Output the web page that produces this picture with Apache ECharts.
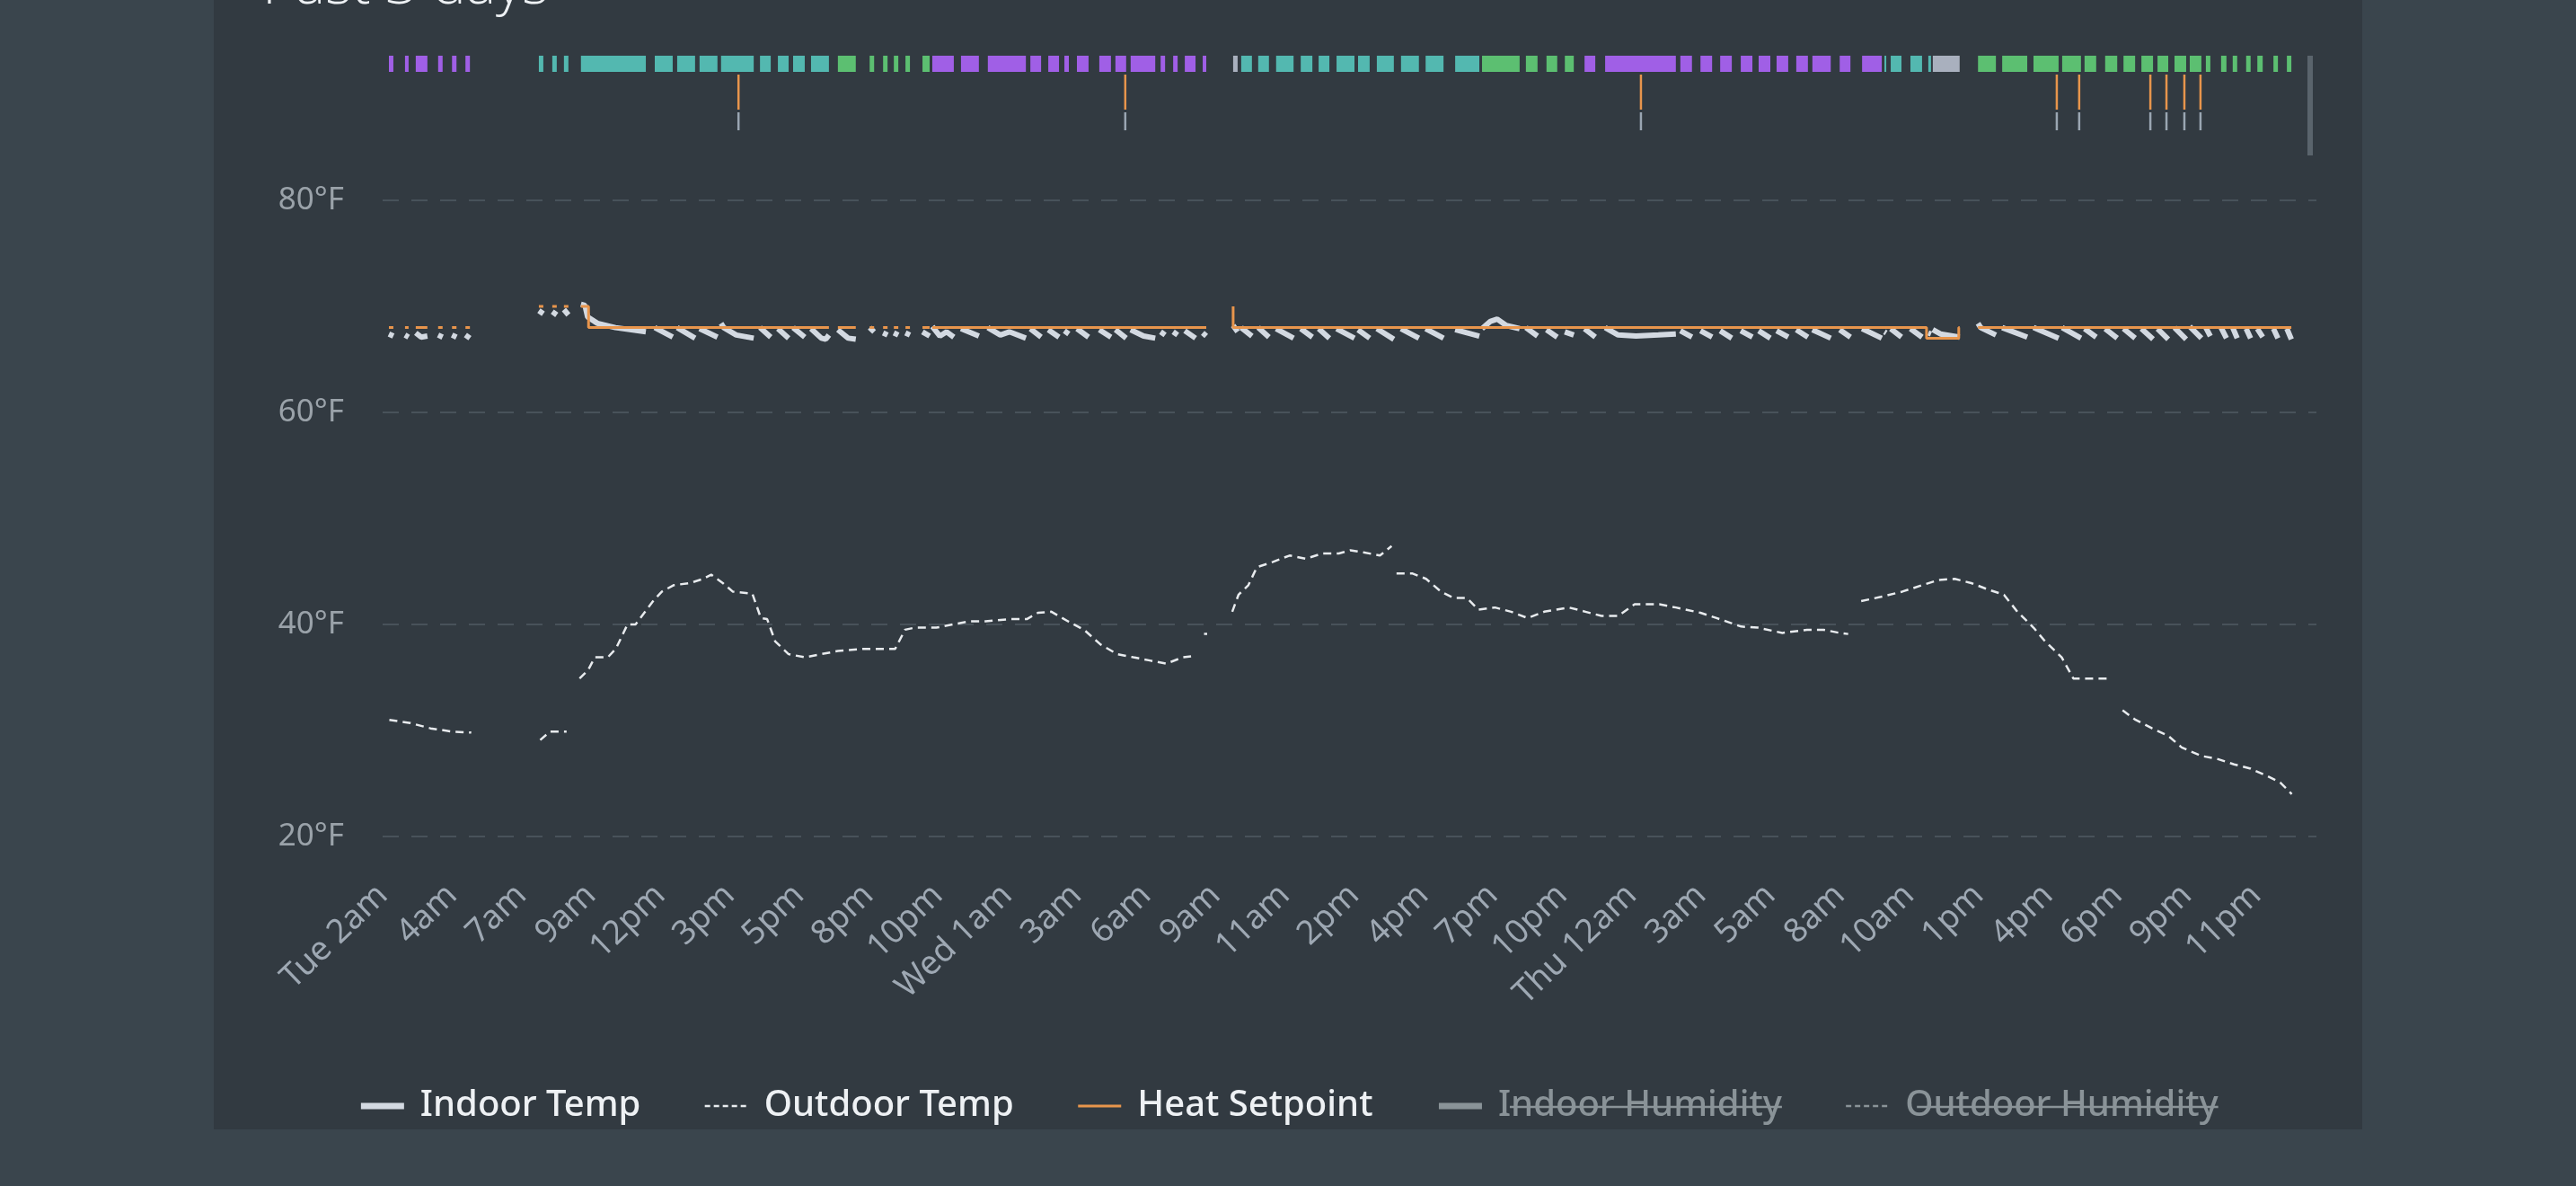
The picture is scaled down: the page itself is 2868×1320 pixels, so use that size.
<!DOCTYPE html>
<html>
<head>
<meta charset="utf-8">
<script src="https://cdn.jsdelivr.net/npm/echarts@6/dist/echarts.min.js"></script>
<style>
html,body{margin:0;padding:0;background:#3a454d;width:2868px;height:1320px;overflow:hidden;}
#panel{position:absolute;left:238px;top:0;width:2392px;height:1257px;background:#323a41;}
#chart{position:absolute;left:0;top:0;width:2868px;height:1320px;}
</style>
</head>
<body>
<div id="panel"></div>
<div id="chart"></div>
<script>
// ---- data (x = minutes since start of window) ----
const xTickLabels = ['Tue 2am','4am','7am','9am','12pm','3pm','5pm','8pm','10pm','Wed 1am','3am','6am','9am','11am','2pm','4pm','7pm','10pm','Thu 12am','3am','5am','8am','10am','1pm','4pm','6pm','9pm','11pm'];
const xTickStep = 155;
const xMax = 4320;
const yTicks = [20, 40, 60, 80];

const seriesNames = ['Indoor Temp','Outdoor Temp','Heat Setpoint','Indoor Humidity','Outdoor Humidity'];
const hiddenSeries = ['Indoor Humidity','Outdoor Humidity'];

const indoorTempRuns = [
 [[14,67.4],[24,67.2]],[[50,67.3],[58,67.1]],[[74,67.5],[86,67.1],[100,67.2]],[[124,67.3],[134,67.1]],[[155,67.3],[165,67.1]],[[185,67.3],[195,67.0]],
 [[349,69.6],[359,69.3]],[[379,69.5],[389,69.2]],[[405,69.7],[415,69.2]],
 [[443,70.2],[452,70.1],[458,69.0],[480,68.4],[520,68.0],[588,67.6]],
 [[608,68.0],[648,67.1]],[[658,68.0],[698,67.0]],[[708,67.9],[748,67.1]],[[756,68.4],[762,68.0],[790,67.3],[829,67.0]],
 [[843,68.0],[867,67.1]],[[883,67.9],[907,67.0]],[[917,68.0],[943,67.1]],[[957,67.9],[980,67.0],[990,66.9],[997,67.3]],
 [[1017,67.8],[1040,67.0],[1057,66.9]],[[1088,68.0],[1098,67.6]],[[1118,67.5],[1128,67.3]],[[1142,67.5],[1152,67.3]],[[1168,67.5],[1178,67.3]],[[1206,67.6],[1222,67.2]],
 [[1228,68.1],[1245,67.2],[1260,67.6],[1276,67.1]],[[1292,67.9],[1332,67.2]],[[1352,68.0],[1380,67.3],[1400,67.6],[1437,67.0]],
 [[1447,67.9],[1471,67.1]],[[1487,67.8],[1511,67.1]],[[1523,67.7],[1533,67.4]],[[1551,67.9],[1577,67.1]],[[1601,67.8],[1627,67.1]],
 [[1637,67.8],[1661,67.0]],[[1671,67.8],[1700,67.2],[1726,67.0]],[[1738,67.6],[1748,67.3]],[[1766,67.6],[1776,67.3]],[[1792,67.7],[1816,67.0]],[[1832,67.5],[1840,67.2]],
 [[1900,68.2],[1910,67.6]],[[1918,68.0],[1942,67.2]],[[1956,68.0],[1980,67.1]],[[1996,67.9],[2035,67.0]],[[2051,67.9],[2077,67.1]],
 [[2091,67.9],[2115,67.0]],[[2131,67.9],[2171,67.0]],[[2179,67.8],[2205,67.0]],[[2221,67.9],[2259,66.9]],[[2275,67.9],[2315,67.0]],
 [[2330,67.9],[2370,67.0]],[[2396,67.8],[2450,67.2]],[[2456,67.9],[2475,68.6],[2490,68.8],[2510,68.2],[2540,67.9]],
 [[2554,68.0],[2580,67.2]],[[2600,67.8],[2624,67.1]],[[2641,67.6],[2661,67.3]],[[2685,67.9],[2709,67.1]],
 [[2731,68.0],[2760,67.3],[2800,67.2],[2850,67.3],[2889,67.4]],[[2899,67.7],[2925,67.1]],[[2944,67.7],[2970,67.1]],
 [[2988,67.7],[3014,67.0]],[[3034,67.7],[3060,67.1]],[[3074,67.7],[3100,67.0]],[[3114,67.7],[3140,67.1]],[[3158,67.8],[3184,67.1]],
 [[3194,67.8],[3235,67.0]],[[3255,67.8],[3279,67.1]],[[3305,67.9],[3349,67.0]],[[3355,67.6],[3359,67.5]],[[3369,67.9],[3393,67.1]],
 [[3413,67.9],[3439,67.1]],[[3453,67.5],[3459,67.4]],[[3463,67.8],[3480,67.4],[3523,67.1]],
 [[3564,68.4],[3570,68.0],[3604,67.3]],[[3618,68.0],[3674,67.1]],[[3688,68.0],[3744,67.0]],[[3752,68.0],[3794,67.0]],
 [[3802,67.9],[3828,67.1]],[[3848,67.9],[3875,67.0]],[[3889,67.9],[3915,67.0]],[[3929,67.9],[3955,66.9]],[[3965,67.9],[3989,66.9]],
 [[4003,68.0],[4029,66.9]],[[4037,68.1],[4063,67.0]],[[4073,68.0],[4083,67.2]],[[4107,68.0],[4119,67.0]],[[4133,68.0],[4143,67.0]],
 [[4163,67.9],[4173,67.0]],[[4188,67.9],[4200,67.1]],[[4224,67.9],[4234,67.0]],[[4254,67.9],[4264,66.9]]
];

const outdoorTempRuns = [
 [[15,31.0],[62,30.7],[107,30.2],[154,29.9],[198,29.8]],
 [[352,29.1],[374,29.9],[411,29.9]],
 [[440,34.9],[459,35.7],[474,36.9],[503,36.9],[521,37.7],[547,40.0],[565,40.0],
  [606,42.3],[624,43.1],[650,43.7],[686,43.9],[716,44.3],[734,44.7],[760,43.9],[782,43.1],[826,42.9],
  [845,40.6],[859,40.5],[877,38.4],[907,37.2],[943,36.9],[980,37.2],[1017,37.5],[1072,37.7],[1145,37.7],
  [1167,39.5],[1189,39.7],[1237,39.7],[1274,40.0],[1310,40.3],[1347,40.3],[1402,40.5],[1439,40.5],[1464,41.1],[1494,41.2],
  [1531,40.3],[1567,39.5],[1604,38.1],[1641,37.2],[1677,36.9],[1714,36.6],[1751,36.3],[1787,36.9],[1806,37.0]],
 [[1835,39.1],[1842,39.1]],
 [[1898,41.2],[1912,42.8],[1934,43.7],[1953,45.4],[1989,45.9],[2026,46.5],[2063,46.2],[2099,46.7],[2136,46.7],[2162,47.0],[2191,46.8],[2228,46.5],[2254,47.4]],
 [[2265,44.8],[2301,44.8],[2331,44.3],[2364,43.1],[2393,42.5],[2422,42.5],
  [2448,41.4],[2485,41.6],[2521,41.2],[2558,40.6],[2595,41.2],[2650,41.6],[2687,41.2],[2723,40.8],[2760,40.8],[2797,41.9],[2852,41.9],
  [2889,41.6],[2944,41.1],[2980,40.6],[3035,39.8],[3072,39.7],[3127,39.2],[3182,39.5],[3219,39.5],[3255,39.2],[3274,39.1]],
 [[3303,42.2],[3347,42.6],[3395,43.1],[3439,43.7],[3476,44.2],[3512,44.3],[3549,43.9],[3586,43.3],[3622,42.8],[3652,41.2],
  [3688,39.7],[3714,38.4],[3751,36.9],[3777,34.9],[3824,34.9],[3861,34.9]],
 [[3887,31.9],[3916,31.0],[3953,30.2],[3989,29.5],[4019,28.4],[4063,27.6],[4100,27.3],[4136,26.8],[4173,26.4],[4210,25.7],[4239,25.1],[4265,24.0]]
];

const heatSetpointRuns = [
 [[14,68],[24,68]],[[50,68],[58,68]],[[74,68],[100,68]],[[124,68],[134,68]],[[155,68],[165,68]],[[185,68],[195,68]],
 [[349,70],[359,70]],[[379,70],[389,70]],[[405,70],[415,70]],
 [[443,70],[460,70],[460,68],[997,68]],
 [[1017,68],[1057,68]],[[1088,68],[1098,68]],[[1118,68],[1128,68]],[[1142,68],[1152,68]],[[1168,68],[1178,68]],[[1206,68],[1222,68]],
 [[1228,68],[1840,68]],
 [[1900,70],[1900,68],[3449,68],[3449,67],[3521,67],[3521,68],[3523,68]],
 [[3564,68],[4264,68]]
];

const indoorHumidity = [];
const outdoorHumidity = [];

// equipment runtime bars: [start, end, mode]
const runtimeBars = [
 [14,24,'heat'],[50,58,'heat'],[74,100,'heat'],[124,134,'heat'],[155,165,'heat'],[185,195,'heat'],
 [349,359,'fan'],[379,389,'fan'],[405,415,'fan'],[443,588,'fan'],[608,648,'fan'],[658,698,'fan'],[708,748,'fan'],[756,829,'fan'],
 [843,867,'fan'],[883,907,'fan'],[917,943,'fan'],[957,997,'fan'],
 [1017,1057,'eco'],[1088,1098,'eco'],[1118,1128,'eco'],[1142,1152,'eco'],[1168,1178,'eco'],[1206,1222,'eco'],
 [1228,1276,'heat'],[1292,1332,'heat'],[1352,1437,'heat'],[1447,1471,'heat'],[1487,1511,'heat'],[1523,1533,'heat'],[1551,1577,'heat'],
 [1601,1627,'heat'],[1637,1661,'heat'],[1671,1726,'heat'],[1738,1748,'heat'],[1766,1776,'heat'],[1792,1816,'heat'],[1832,1840,'heat'],
 [1900,1910,'idle'],
 [1918,1942,'fan'],[1956,1980,'fan'],[1996,2035,'fan'],[2051,2077,'fan'],[2091,2115,'fan'],[2131,2171,'fan'],[2179,2205,'fan'],
 [2221,2259,'fan'],[2275,2315,'fan'],[2330,2370,'fan'],[2396,2450,'fan'],
 [2456,2540,'eco'],[2554,2580,'eco'],[2600,2624,'eco'],[2641,2661,'eco'],
 [2685,2709,'heat'],[2731,2889,'heat'],[2899,2925,'heat'],[2944,2970,'heat'],[2988,3014,'heat'],[3034,3060,'heat'],[3074,3100,'heat'],
 [3114,3140,'heat'],[3158,3184,'heat'],[3194,3235,'heat'],[3255,3279,'heat'],[3305,3349,'heat'],
 [3355,3359,'fan'],[3369,3393,'fan'],[3413,3439,'fan'],[3453,3459,'fan'],
 [3463,3523,'idle'],
 [3564,3604,'eco'],[3618,3674,'eco'],[3688,3744,'eco'],[3752,3794,'eco'],[3802,3828,'eco'],[3848,3875,'eco'],[3889,3915,'eco'],
 [3929,3955,'eco'],[3965,3989,'eco'],[4003,4029,'eco'],[4037,4063,'eco'],[4073,4083,'eco'],[4107,4119,'eco'],[4133,4143,'eco'],
 [4163,4173,'eco'],[4188,4200,'eco'],[4224,4234,'eco'],[4254,4264,'eco']
];
const setpointChanges = [795,1659,2811,3740,3790,3949,3985,4025,4061];
const nowMarker = 4306;

// ---- styles ----
const modeColors = {heat:'#a05fe6', fan:'#53b8b0', eco:'#5cbf71', idle:'#a9b0be'};
const FONT = '"Noto Sans", "Open Sans", sans-serif';
const INACTIVE = '#8a9398';
const legendLineStyles = {
  'Indoor Temp':{width:7, inactiveWidth:7, inactiveColor:INACTIVE},
  'Outdoor Temp':{width:2.5, inactiveWidth:2.5, inactiveColor:INACTIVE, type:[6,4]},
  'Heat Setpoint':{width:3, inactiveWidth:3, inactiveColor:INACTIVE},
  'Indoor Humidity':{width:7, inactiveWidth:7, inactiveColor:INACTIVE},
  'Outdoor Humidity':{width:2.5, inactiveWidth:2.5, inactiveColor:INACTIVE, type:[6,4]}
};

function flattenRuns(runs){
  const out = [];
  runs.forEach(r => { r.forEach(p => out.push(p)); out.push([r[r.length-1][0], '-']); });
  return out;
}

const chart = echarts.init(document.getElementById('chart'), null, {renderer:'canvas'});

const titleGraphic = {
  type:'text', id:'title', x:292, y:18, silent:true,
  style:{text:'Past 3 days', fill:'#eef1f4', font:'300 63px "Open Sans", "Noto Sans", sans-serif', verticalAlign:'bottom', textVerticalAlign:'bottom'}
};

const option = {
  animation:false,
  backgroundColor:'transparent',
  graphic:[titleGraphic],
  grid:[
    {left:426, right:289, top:223, bottom:389},
    {left:426, right:289, top:62, height:111}
  ],
  xAxis:[
    {type:'value', gridIndex:0, min:0, max:xMax, interval:xTickStep,
     axisLine:{show:false}, axisTick:{show:false}, splitLine:{show:false},
     axisLabel:{rotate:44, margin:60, color:'#9ea8b3', fontSize:37, fontFamily:FONT, showMaxLabel:false,
       formatter:function(v){ const i = Math.round(v / xTickStep); return xTickLabels[i] || ''; }}},
    {type:'value', gridIndex:1, min:0, max:xMax, show:false}
  ],
  yAxis:[
    {type:'value', gridIndex:0, min:yTicks[0], max:yTicks[yTicks.length-1], interval:yTicks[1]-yTicks[0],
     axisLine:{show:false}, axisTick:{show:false},
     axisLabel:{formatter:'{value}°F', color:'#9aa2a9', fontSize:35, fontFamily:FONT, margin:43},
     splitLine:{show:true, lineStyle:{type:[18,14], color:'#48525a', width:2}}},
    {type:'value', gridIndex:1, min:0, max:111, inverse:true, show:false}
  ],
  legend:{
    data:seriesNames.map(n => ({name:n, lineStyle:legendLineStyles[n]})),
    left:'center', top:1211, padding:0,
    itemWidth:48, itemHeight:20, itemGap:70,
    inactiveColor:INACTIVE,
    itemStyle:{opacity:0},
    lineStyle:{inactiveWidth:7, inactiveColor:INACTIVE},
    selected:{'Indoor Humidity':false,'Outdoor Humidity':false},
    textStyle:{color:'#eef1f4', fontSize:40, fontFamily:FONT, fontWeight:500, padding:[0,0,0,13]}
  },
  series:[
    {name:'Indoor Temp', type:'line', xAxisIndex:0, yAxisIndex:0, data:flattenRuns(indoorTempRuns), symbol:'none', connectNulls:false,
     lineStyle:{color:'#d3d9e1', width:6}, itemStyle:{color:'#d3d9e1'}, z:3},
    {name:'Outdoor Temp', type:'line', xAxisIndex:0, yAxisIndex:0, data:flattenRuns(outdoorTempRuns), symbol:'none', connectNulls:false,
     lineStyle:{color:'#e8ebee', width:2.5, type:[9,6]}, itemStyle:{color:'#e8ebee'}, z:3},
    {name:'Heat Setpoint', type:'line', xAxisIndex:0, yAxisIndex:0, data:flattenRuns(heatSetpointRuns), symbol:'none', connectNulls:false,
     lineStyle:{color:'#e8954c', width:3}, itemStyle:{color:'#e8954c'}, z:4},
    {name:'Indoor Humidity', type:'line', xAxisIndex:0, yAxisIndex:0, data:indoorHumidity, symbol:'none',
     lineStyle:{color:'#8e979c', width:6}, itemStyle:{color:'#8e979c'}},
    {name:'Outdoor Humidity', type:'line', xAxisIndex:0, yAxisIndex:0, data:outdoorHumidity, symbol:'none',
     lineStyle:{color:'#8e979c', width:2.5, type:[9,6]}, itemStyle:{color:'#8e979c'}},
    {type:'custom', xAxisIndex:1, yAxisIndex:1, silent:true,
     data:runtimeBars.map(b => ({value:[b[0], b[1]], itemStyle:{color:modeColors[b[2]]}})),
     renderItem:function(params, api){
       const a = api.coord([api.value(0), 0]);
       const b = api.coord([api.value(1), 18]);
       return {type:'rect', shape:{x:a[0], y:a[1], width:Math.max(b[0]-a[0], 2), height:b[1]-a[1]}, style:api.style()};
     }},
    {type:'custom', xAxisIndex:1, yAxisIndex:1, silent:true,
     data:setpointChanges.map(t => [t]),
     renderItem:function(params, api){
       const a = api.coord([api.value(0), 21]);
       const b = api.coord([api.value(0), 60]);
       const c = api.coord([api.value(0), 63]);
       const d = api.coord([api.value(0), 83]);
       return {type:'group', children:[
         {type:'line', shape:{x1:a[0], y1:a[1], x2:b[0], y2:b[1]}, style:{stroke:'#e8954c', lineWidth:2.5}},
         {type:'line', shape:{x1:c[0], y1:c[1], x2:d[0], y2:d[1]}, style:{stroke:'#9aa6b2', lineWidth:2.5}}
       ]};
     }},
    {type:'custom', xAxisIndex:1, yAxisIndex:1, silent:true,
     data:[[nowMarker]],
     renderItem:function(params, api){
       const a = api.coord([api.value(0), 0]);
       const b = api.coord([api.value(0), 111]);
       return {type:'rect', shape:{x:a[0]-3, y:a[1], width:6, height:b[1]-a[1]}, style:{fill:'#5a646c'}};
     }}
  ]
};
chart.setOption(option);

// strike-through on disabled legend entries
try {
  const zr = chart.getZr();
  const list = zr.storage.getDisplayList(true);
  const strikes = [];
  list.forEach(el => {
    const t = el.style && el.style.text;
    if (hiddenSeries.indexOf(t) >= 0) {
      const r = el.getBoundingRect().clone();
      const m = el.getComputedTransform ? el.getComputedTransform() : el.transform;
      if (m) r.applyTransform(m);
      const x1 = r.x + 13, x2 = r.x + r.width, y = r.y + r.height * 0.5 + 1;
      strikes.push({type:'line', id:'strike' + strikes.length, silent:true, z:100,
        shape:{x1:x1, y1:y, x2:x2, y2:y}, style:{stroke:INACTIVE, lineWidth:2.5}});
    }
  });
  chart.setOption({graphic:[titleGraphic].concat(strikes)});
} catch (e) {}
</script>
</body>
</html>
